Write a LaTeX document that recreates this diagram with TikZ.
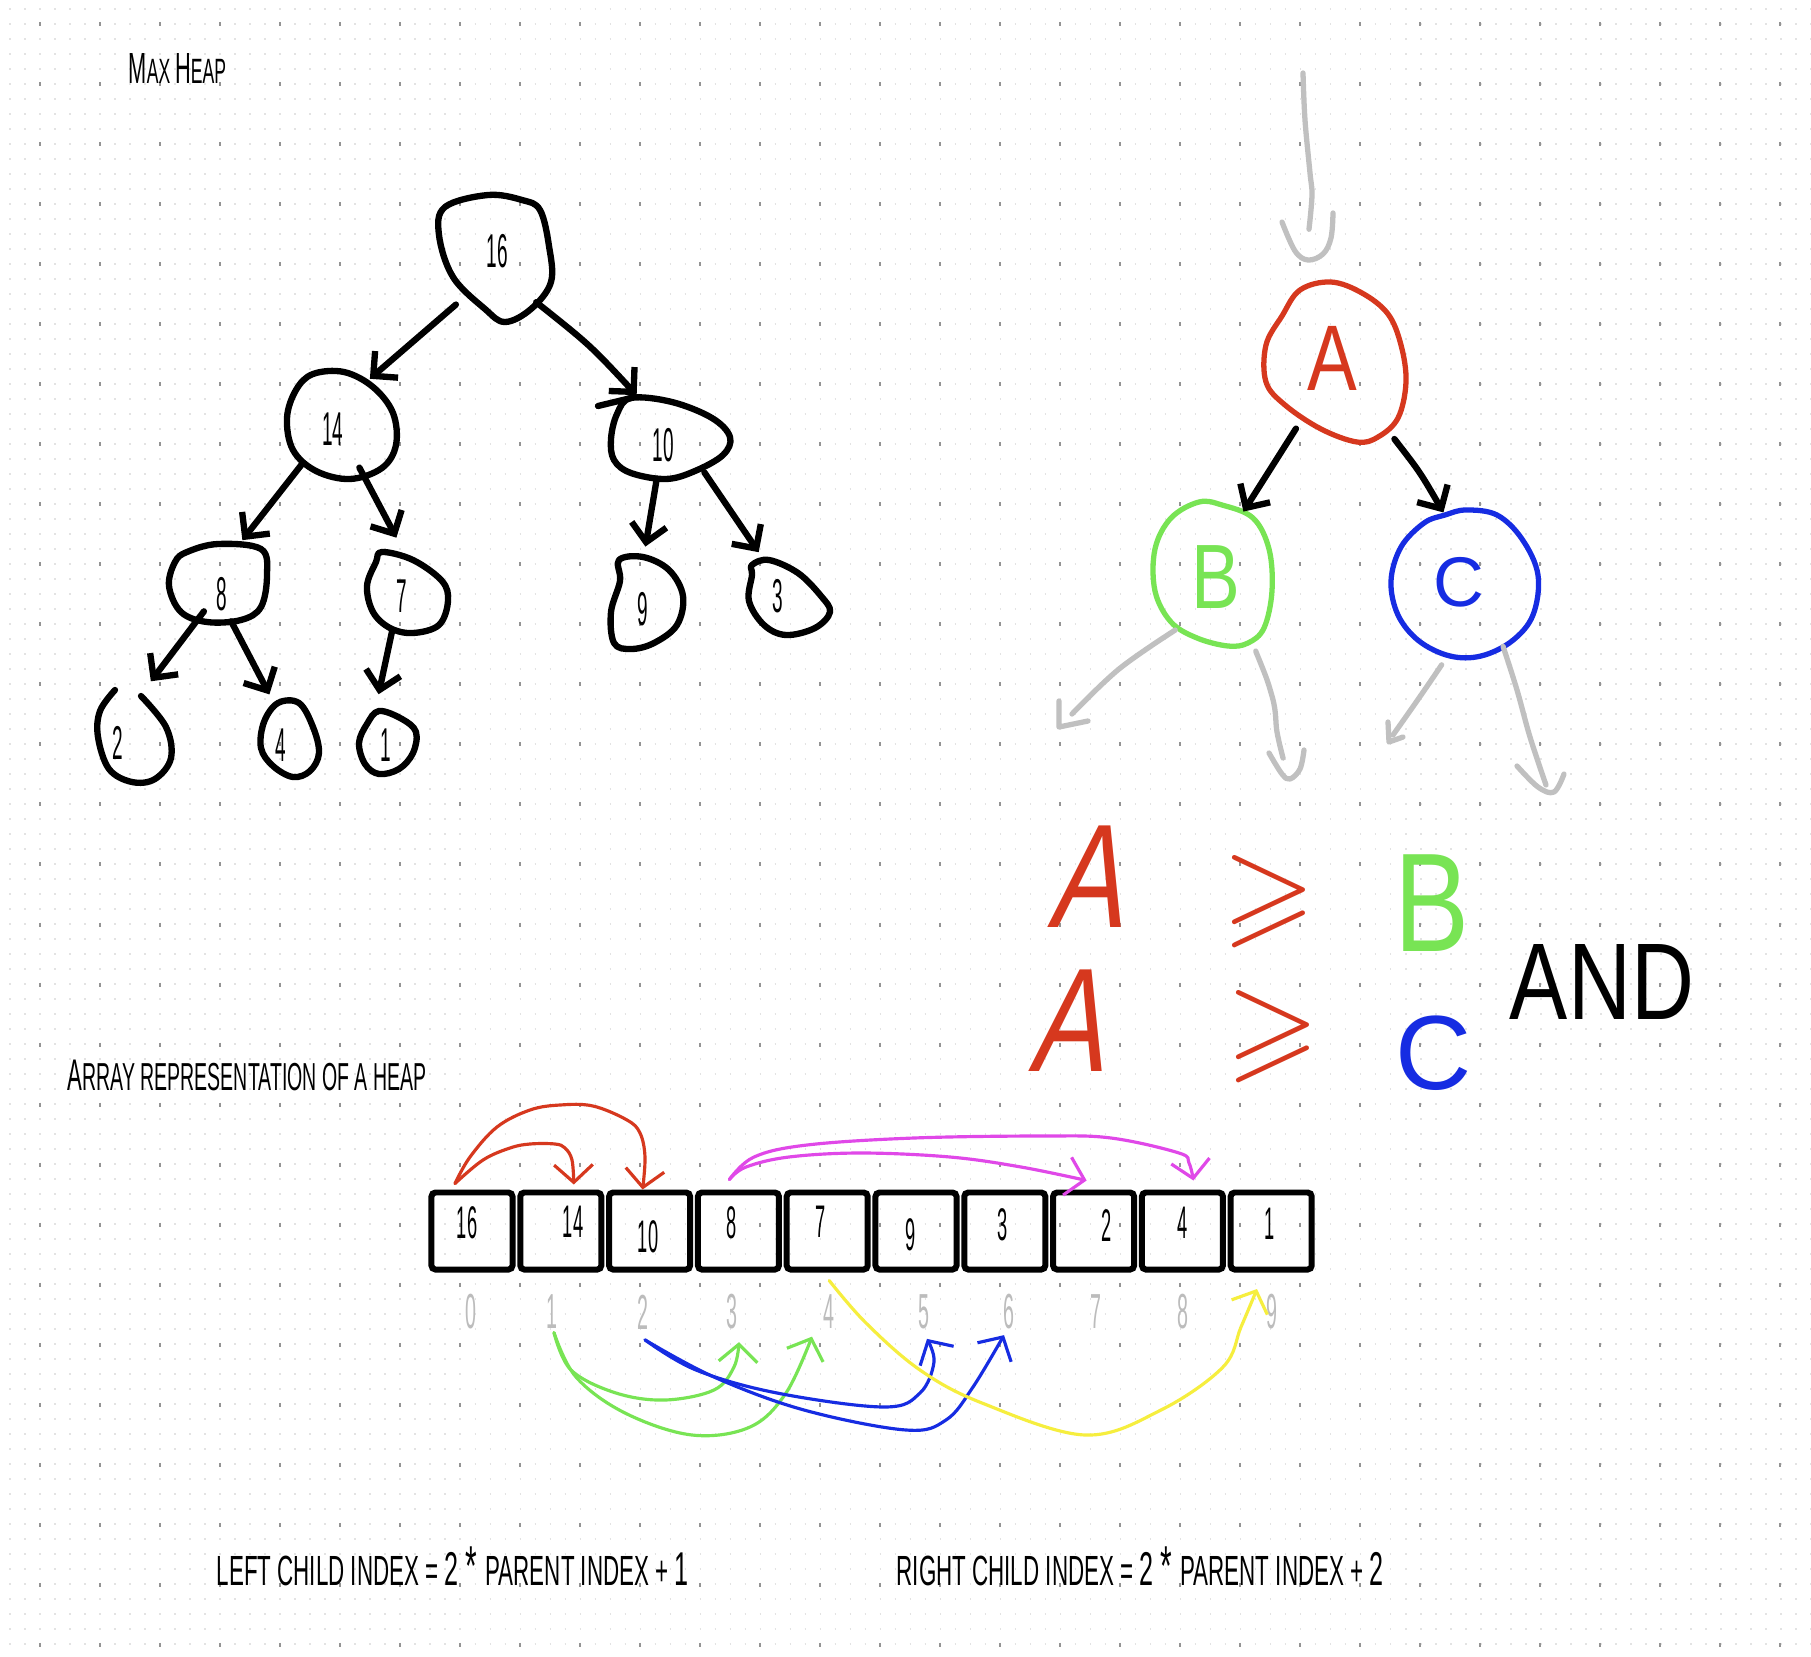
\documentclass[tikz,border=0pt]{standalone}
\usepackage{amssymb}
\usepackage{fontspec}
\setmainfont{Liberation Sans}
\newfontfamily\hand[FakeStretch=0.5]{Liberation Sans}
\newfontfamily\handf[FakeStretch=0.53]{Liberation Sans}
\newfontfamily\handn[FakeStretch=0.4]{Liberation Sans}
\newfontfamily\handw[FakeStretch=0.8]{Liberation Sans}
\newfontfamily\handsl[FakeStretch=0.75,FakeSlant=0.2]{Liberation Sans}
\usetikzlibrary{arrows.meta,shapes.geometric,calc}
\definecolor{hred}{RGB}{214,56,30}
\definecolor{hgreen}{RGB}{120,228,84}
\definecolor{hblue}{RGB}{22,44,226}
\definecolor{hmag}{RGB}{224,72,232}
\definecolor{hyel}{RGB}{246,238,62}
\definecolor{hgray}{RGB}{192,192,192}
\definecolor{idxgray}{RGB}{188,188,188}
\newcommand\fs[1]{\fontsize{#1}{#1}\selectfont}
\begin{document}
\begin{tikzpicture}[x=0.01cm,y=-0.01cm,
  treeline/.style={line width=1.8pt,line cap=round,line join=round},
  treearr/.style={treeline,-{Straight Barb[length=5pt,width=10pt]}},
  blobnode/.style={ellipse,inner sep=0pt,draw=none},
  blobline/.style={line width=1.8pt,line join=round,line cap=round},
  cblob/.style={line width=1.5pt,line join=round,line cap=round},
  tnum/.style={font=\handn\fs{13.5},inner sep=0pt},
  boxnode/.style={draw,line width=1.7pt,rounded corners=0.04cm,minimum width=0.81cm,minimum height=0.77cm,inner sep=0pt},
  idx/.style={font=\handn\fs{14},text=idxgray,inner sep=0pt},
  harr/.style={line width=0.9pt,line cap=round,line join=round,-{Straight Barb[length=5pt,width=11pt]}},
  garr/.style={hgray,line width=1.5pt,line cap=round,line join=round},
  bigtxt/.style={inner sep=0pt},
]
\useasboundingbox (0,0) rectangle (1811,1657);
\fill[white] (0,0) rectangle (1811,1657);
% dot grid
\foreach \y in {9,24,...,1650}
  \draw[black!11,line width=0.015cm,dash pattern=on 0.015cm off 0.135cm,dash phase=0.0575cm] (0,\y) -- (1811,\y);
\foreach \x in {40,100,...,1800}
  \draw[black!42,line width=0.02cm,dash pattern=on 0.04cm off 0.56cm,dash phase=0.38cm] (\x,0) -- (\x,1657);

% ---------- titles ----------
\node[bigtxt,anchor=base west] (titleMH) at (128,83) {\hand\fs{12.4}M\fs{10}AX \fs{12.4}H\fs{10}EAP};
\node[bigtxt,anchor=base west] (titleArr) at (67,1090) {\hand\fs{12.6}A\fs{11.1}RRAY REPRESENTATION OF A HEAP};
\node[bigtxt,anchor=base west] (leftf) at (216,1585) {\handf\fs{12}LEFT CHILD INDEX = \fs{13.5}2 \fs{16}* \fs{12}PARENT INDEX + \fs{13.5}1};
\node[bigtxt,anchor=base west] (rightf) at (896,1585) {\handf\fs{12}RIGHT CHILD INDEX = \fs{13.5}2 \fs{16}* \fs{12}PARENT INDEX + \fs{13.5}2};

% ---------- max heap tree ----------
\node[blobnode,minimum width=1.12cm,minimum height=1.27cm] (n16) at (495,258) {};
\node[blobnode,minimum width=1.09cm,minimum height=1.07cm] (n14) at (341,425) {};
\node[blobnode,minimum width=1.19cm,minimum height=0.82cm] (n10) at (670,438) {};
\node[blobnode,minimum width=0.98cm,minimum height=0.78cm] (n8) at (218,583) {};
\node[blobnode,minimum width=0.81cm,minimum height=0.81cm] (n7) at (407,592) {};
\node[blobnode,minimum width=0.72cm,minimum height=0.92cm] (n9) at (647,603) {};
\node[blobnode,minimum width=0.81cm,minimum height=0.75cm] (n3) at (789,597) {};
\node[blobnode,minimum width=0.73cm,minimum height=0.92cm] (n2) at (134,736) {};
\node[blobnode,minimum width=0.58cm,minimum height=0.74cm] (n4) at (290,740) {};
\node[blobnode,minimum width=0.57cm,minimum height=0.63cm] (n1) at (387,742) {};

\draw[blobline] plot[smooth cycle,tension=0.6] coordinates {(445,207) (488,195) (522,200) (540,210) (549,246) (551,282) (531,309) (505,322) (485,309) (453,277) (439,235)};
\draw[blobline] plot[smooth cycle,tension=0.6] coordinates {(313,374) (344,372) (373,387) (393,413) (396,445) (382,468) (350,479) (316,471) (293,450) (287,418) (296,390)};
\draw[blobline] plot[smooth cycle,tension=0.6] coordinates {(631,398) (672,402) (712,418) (730,437) (723,455) (695,471) (666,479) (631,473) (614,460) (611,439) (617,414)};
\draw[blobline] (598,406) -- (631,398);
\draw[blobline] plot[smooth cycle,tension=0.6] coordinates {(187,552) (218,544) (261,549) (267,575) (261,607) (241,620) (207,622) (181,612) (169,586) (175,562)};
\draw[blobline] plot[smooth cycle,tension=0.6] coordinates {(382,552) (413,560) (442,581) (448,601) (439,625) (413,633) (390,628) (373,612) (367,586) (376,562)};
\draw[blobline] plot[smooth cycle,tension=0.6] coordinates {(619,560) (643,557) (669,570) (683,596) (677,625) (654,643) (631,649) (614,643) (611,612) (620,581)};
\draw[blobline] plot[smooth cycle,tension=0.6] coordinates {(752,565) (769,560) (798,573) (821,596) (830,612) (815,628) (786,635) (764,625) (749,601) (752,575)};
\draw[blobline] plot[smooth,tension=0.6] coordinates {(141,696) (166,727) (171,758) (155,779) (132,782) (109,769) (98,737) (100,711) (115,690)};
\draw[blobline] plot[smooth cycle,tension=0.6] coordinates {(278,703) (299,703) (313,727) (319,753) (310,771) (293,777) (273,766) (261,748) (264,722)};
\draw[blobline] plot[smooth cycle,tension=0.6] coordinates {(379,711) (402,719) (416,732) (413,753) (399,769) (379,774) (365,764) (359,743) (367,724)};

\node[tnum] (t16) at (497,251) {16};
\node[tnum] (t14) at (333,429) {14};
\node[tnum] (t10) at (663,445) {10};
\node[tnum] (t8) at (222,594) {8};
\node[tnum] (t7) at (402,596) {7};
\node[tnum] (t9) at (643,609) {9};
\node[tnum] (t3) at (778,596) {3};
\node[tnum] (t2) at (118,743) {2};
\node[tnum] (t4) at (281,745) {4};
\node[tnum] (t1) at (386,745) {1};

\draw[treearr] (n16.-130) -- (n14.58);
\draw[treearr,shorten >=0.08cm] (n16.-47) .. controls (590,345) .. (n10.127);
\draw[treearr,shorten >=0.08cm] (n14.-135) -- (n8.62);
\draw[treearr,shorten <=-0.08cm,shorten >=0.15cm] (n14.-66) -- (n7.95);
\draw[treearr,shorten >=0.1cm] (n10.-108) -- (n9.94);
\draw[treearr,shorten >=0.15cm] (n10.-45) -- (n3.124);
\draw[treearr,shorten <=-0.1cm,shorten >=0.12cm] (n8.-119) -- (n2.78);
\draw[treearr,shorten >=0.14cm] (n8.-71.6) -- (n4.113);
\draw[treearr,shorten >=0.19cm] (n7.-111.6) -- (n1.113.5);

% ---------- A B C tree ----------
\node[blobnode,minimum width=1.40cm,minimum height=1.60cm] (nA) at (1336,362) {};
\node[blobnode,minimum width=1.17cm,minimum height=1.44cm] (nB) at (1213,574) {};
\node[blobnode,minimum width=1.47cm,minimum height=1.46cm] (nC) at (1465,583) {};
\draw[hred,cblob] plot[smooth cycle,tension=0.6] coordinates {(1300,290) (1331,282) (1362,293) (1388,314) (1401,345) (1406,382) (1398,418) (1378,437) (1357,442) (1321,429) (1285,405) (1266,382) (1266,345) (1282,316)};
\draw[hgreen,cblob] plot[smooth cycle,tension=0.6] coordinates {(1199,502) (1222,505) (1253,518) (1269,549) (1272,591) (1264,628) (1248,643) (1228,646) (1197,638) (1171,622) (1155,591) (1155,549) (1171,518)};
\draw[hblue,cblob] plot[smooth cycle,tension=0.6] coordinates {(1445,515) (1466,510) (1497,515) (1522,539) (1538,575) (1533,615) (1512,641) (1481,656) (1450,656) (1419,641) (1398,615) (1391,581) (1401,547) (1424,523)};
\node[bigtxt,text=hred,font=\handw\fs{26.5}] (tA) at (1332,358) {A};
\node[bigtxt,text=hgreen,font=\handw\fs{26}] (tB) at (1216,577) {B};
\node[bigtxt,text=hblue,font=\fs{20}] (tC) at (1459,582) {C};

\draw[treearr] (nA.-121) -- (nB.64);
\draw[treearr,shorten <=0.2cm] (nA.-53.5) .. controls (1420,472) .. (nC.107);

% gray arrows
\coordinate (gt) at (1303,73);
\coordinate (gte) at ($(nA.north)+(-27,-52)$);
\draw[garr] plot[smooth,tension=0.6] coordinates {(gt) (1305,120) (1310,173) (1312,195) (gte)};
\draw[garr] plot[smooth,tension=0.6] coordinates {(1282,222) (1295,251) (1308,260) (1323,254) (1331,238) (1333,213)};
\coordinate (gbl) at (1072,714);
\draw[garr] plot[smooth,tension=0.6] coordinates {(nB.-124) (1119,669) (gbl)};
\draw[garr] plot coordinates {(1059,701) (1059,727) (1088,721)};
\coordinate (gbd) at (1283,758);
\draw[garr,shorten <=0.2cm] plot[smooth,tension=0.6] coordinates {(nB.-59) (1272,696) (1277,732) (gbd)};
\draw[garr] plot[smooth,tension=0.6] coordinates {(1269,753) (1282,774) (1290,779) (1300,769) (1304,750)};
\coordinate (gcl) at (1393,735);
\draw[garr,shorten <=0.12cm] plot[smooth,tension=0.6] coordinates {(nC.-103) (1419,698) (gcl)};
\draw[garr] plot coordinates {(1388,722) (1389,742) (1403,737)};
\coordinate (gcr) at (1546,785);
\draw[garr] plot[smooth,tension=0.6] coordinates {(nC.-59.4) (1517,690) (1530,737) (gcr)};
\draw[garr] plot[smooth,tension=0.6] coordinates {(1517,766) (1538,787) (1554,792) (1564,774)};

% inequalities
\node[bigtxt,text=hred,font=\handsl\fs{42}] (eqA1) at (1084,877) {A};
\node[bigtxt,text=hred,font=\fs{34}] (ge1) at (1269,902) {$\geqslant$};
\node[bigtxt,text=hgreen,font=\handw\fs{40}] (eqB) at (1432,903) {B};
\node[bigtxt,text=hred,font=\handsl\fs{42}] (eqA2) at (1065,1021) {A};
\node[bigtxt,text=hred,font=\fs{34}] (ge2) at (1273,1037) {$\geqslant$};
\node[bigtxt,text=hblue,font=\fs{30}] (eqC) at (1434,1053) {C};
\node[bigtxt,font=\handw\fs{31}] (andtxt) at (1602,982) {AND};

% ---------- array ----------
\foreach \i in {0,...,9}
  \node[boxnode] (b\i) at ({472+88.8*\i},1231) {};
\node[tnum,font=\handn\fs{13}] (v0) at (467,1223) {16};
\node[tnum,font=\handn\fs{13}] (v1) at (573,1222) {14};
\node[tnum,font=\handn\fs{13}] (v2) at (648,1237) {10};
\node[tnum,font=\handn\fs{13}] (v3) at (732,1223) {8};
\node[tnum,font=\handn\fs{13}] (v4) at (821,1222) {7};
\node[tnum,font=\handn\fs{13}] (v5) at (911,1235) {9};
\node[tnum,font=\handn\fs{13}] (v6) at (1003,1225) {3};
\node[tnum,font=\handn\fs{13}] (v7) at (1107,1226) {2};
\node[tnum,font=\handn\fs{13}] (v8) at (1183,1223) {4};
\node[tnum,font=\handn\fs{13}] (v9) at (1270,1224) {1};
\foreach \i/\x in {0/471,1/552,2/643,3/732,4/829,5/924,6/1009,7/1096,8/1183,9/1272}
  \node[idx] (i\i) at (\x,1312) {\i};

\coordinate (r0) at ($(b0.north)+(-17,-6)$);
\coordinate (r1e) at ($(b1.north)+(13,-5)$);
\coordinate (r2e) at ($(b2.north)+(-7,0)$);
\coordinate (m0) at ($(b3.north)+(-9,-10)$);
\coordinate (m1e) at ($(b7.north)+(-7,-9)$);
\coordinate (m2e) at ($(b8.north)+(11,-9)$);
\coordinate (g0) at ($(i1.south)+(2,3)$);
\coordinate (g1e) at ($(i3.south)+(7,12)$);
\coordinate (g2e) at ($(i4.south)+(-17,7)$);
\coordinate (u0) at ($(i2.south)+(2,10)$);
\coordinate (u1e) at ($(i5.south)+(3,9)$);
\coordinate (u2e) at ($(i6.south)+(-5,5)$);
\coordinate (y0) at ($(b4.south)+(2,8)$);
\coordinate (y1e) at ($(i9.center)+(-15,-23)$);

\draw[harr,hred] plot[smooth,tension=0.6] coordinates {(r0) (470,1157) (497,1127) (530,1110) (560,1105) (593,1106) (627,1120) (640,1133) (645,1157) (r2e)};
\draw[harr,hred] plot[smooth,tension=0.6] coordinates {(r0) (483,1160) (510,1148) (530,1144) (555,1144) (565,1148) (572,1160) (r1e)};
\draw[harr,hmag] plot[smooth,tension=0.6] coordinates {(m0) (746,1167) (789,1157) (861,1153) (950,1157) (1021,1167) (m1e)};
\draw[harr,hmag] plot[smooth,tension=0.6] coordinates {(m0) (754,1157) (807,1145) (914,1138) (1043,1136) (1111,1138) (1179,1153) (1189,1163) (m2e)};
\draw[harr,hgreen] plot[smooth,tension=0.6] coordinates {(g0) (571,1370) (616,1393) (665,1400) (714,1390) (734,1367) (g1e)};
\draw[harr,hgreen] plot[smooth,tension=0.6] coordinates {(g0) (576,1377) (625,1413) (692,1435) (750,1427) (786,1393) (g2e)};
\draw[harr,hblue] plot[smooth,tension=0.6] coordinates {(u0) (696,1370) (777,1393) (884,1407) (920,1393) (934,1362) (u1e)};
\draw[harr,hblue] plot[smooth,tension=0.6] coordinates {(u0) (714,1377) (804,1410) (906,1430) (946,1420) (973,1387) (u2e)};
\draw[harr,hyel] plot[smooth,tension=0.6] coordinates {(y0) (866,1323) (920,1370) (982,1403) (1085,1435) (1161,1410) (1223,1367) (1241,1327) (y1e)};
\end{tikzpicture}
\end{document}
